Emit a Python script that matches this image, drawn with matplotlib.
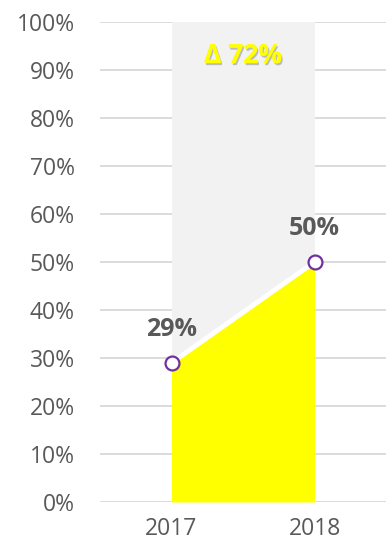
import matplotlib.pyplot as plt
import matplotlib.patheffects as pe

years = ["2017", "2018"]
share = [29, 50]
ceiling = [100, 100]
yticks = list(range(0, 101, 10))

plt.rcParams['font.family'] = ['Open Sans', 'DejaVu Sans']

fig = plt.figure(figsize=(3.92, 5.48), dpi=100)
ax = fig.add_axes([100 / 392, 46 / 548, 286 / 392, 480 / 548])

x = list(range(len(years)))

# grey background band and yellow area
ax.fill_between(x, 0, ceiling, color="#f2f2f2", lw=0, zorder=1)
ax.fill_between(x, 0, share, color="#ffff00", lw=0, zorder=2)
ax.plot(x, share, color="white", lw=3.5, zorder=3, solid_capstyle="butt")
ax.plot(x, share, ls="none", marker="o", ms=10, mfc="white", mec="#7030a0",
        mew=1.6, zorder=4, clip_on=False)

for xi, v in zip(x, share):
    ax.text(xi, v + 7, f"{v}%", ha="center", va="center", fontsize=18,
            fontweight="bold", color="#595959", zorder=5)

delta = round((share[1] - share[0]) / share[0] * 100)
ax.text(0.5, 93, f"Δ {delta}%", ha="center", va="center", fontsize=19,
        fontweight="bold", color="#ffff00", zorder=5,
        path_effects=[pe.withSimplePatchShadow(offset=(1, -1.5), shadow_rgbFace="#999999", alpha=0.6),
                      pe.Normal()])

ax.set_xlim(-0.5, 1.5)
ax.set_ylim(0, 100)
ax.set_yticks(yticks)
ax.set_yticklabels([f"{t}%" for t in yticks])
ax.set_xticks(x)
ax.set_xticklabels(years)
ax.grid(axis="y", color="#d9d9d9", lw=1.3, zorder=0)
ax.set_axisbelow(True)
for s in ax.spines.values():
    s.set_visible(False)
ax.tick_params(length=0, labelsize=16.5, labelcolor="#595959")
ax.tick_params(axis="y", pad=18)
ax.tick_params(axis="x", pad=11)

fig.savefig("out.png", dpi=100)
